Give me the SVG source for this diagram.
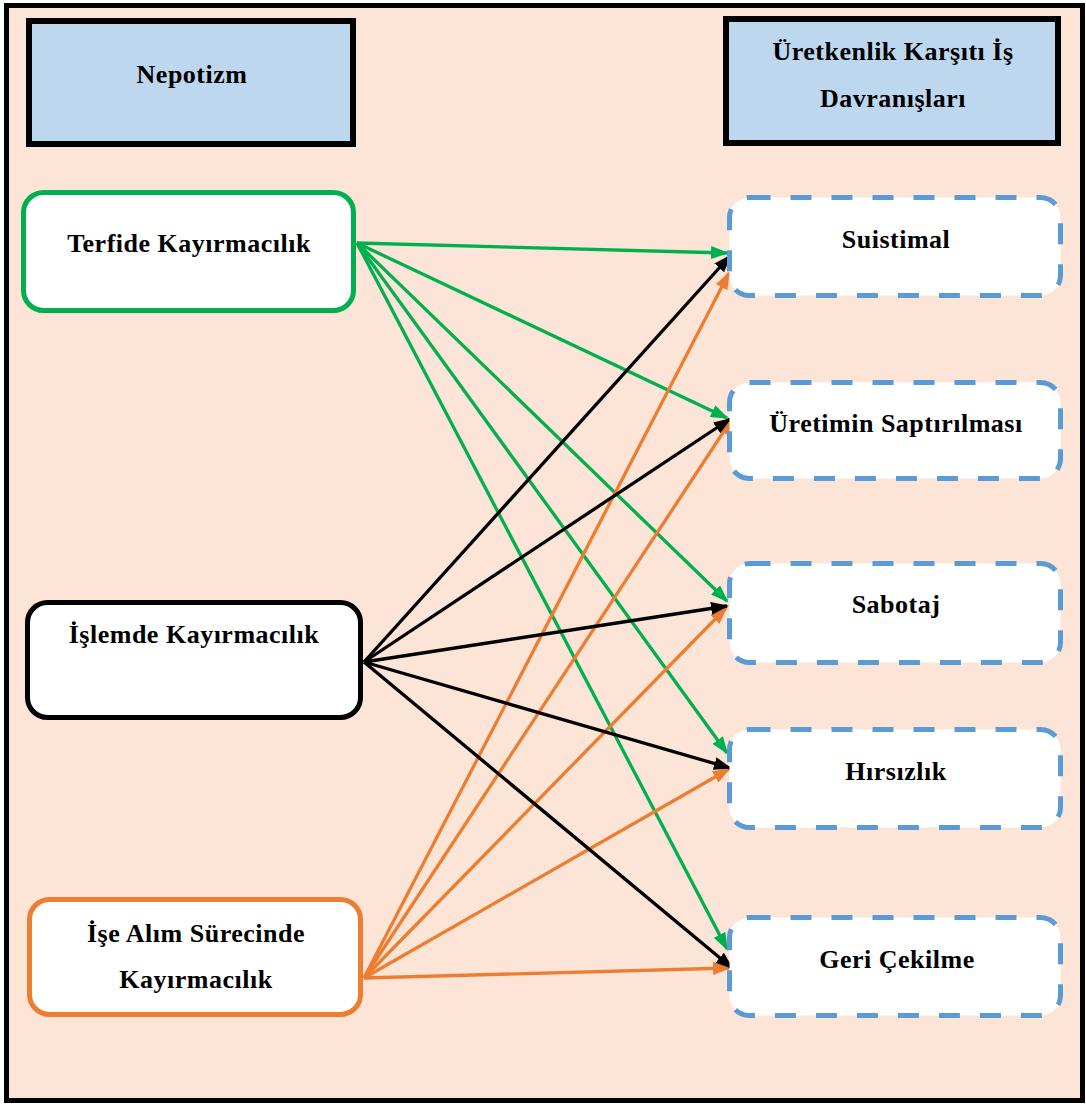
<svg xmlns="http://www.w3.org/2000/svg" width="1086" height="1104" viewBox="0 0 1086 1104">
  <style>
    .lbl { font-family: "Liberation Serif", "Times New Roman", serif; font-weight: bold; font-size: 26px; letter-spacing: 0.5px; fill: #000; text-anchor: middle; }
    .head { fill: #BDD7EE; stroke: #000; stroke-width: 6; }
    .src { fill: #fff; stroke-width: 5; }
    .dst { fill: #fff; stroke: #5B9BD5; stroke-width: 5; stroke-dasharray: 21 20; }
    .c-green { stroke: #00B050; stroke-width: 3.3; fill: none; }
    .c-black { stroke: #000; stroke-width: 3.3; fill: none; }
    .c-orange { stroke: #ED7D31; stroke-width: 3.3; fill: none; }
  </style>
  <defs>
    <marker id="arr-green" viewBox="0 0 18 13" refX="16" refY="6.5" markerWidth="18" markerHeight="13" markerUnits="userSpaceOnUse" orient="auto">
      <path d="M0,0 L18,6.5 L0,13 z" fill="#00B050"/>
    </marker>
    <marker id="arr-black" viewBox="0 0 18 13" refX="16" refY="6.5" markerWidth="18" markerHeight="13" markerUnits="userSpaceOnUse" orient="auto">
      <path d="M0,0 L18,6.5 L0,13 z" fill="#000"/>
    </marker>
    <marker id="arr-orange" viewBox="0 0 18 13" refX="16" refY="6.5" markerWidth="18" markerHeight="13" markerUnits="userSpaceOnUse" orient="auto">
      <path d="M0,0 L18,6.5 L0,13 z" fill="#ED7D31"/>
    </marker>
  </defs>

  <!-- frame and background -->
  <rect x="6.5" y="5.5" width="1076" height="1095" fill="#FCE4D6" stroke="#000" stroke-width="5"/>

  <!-- column headers -->
  <g id="hdr-nepotizm">
    <rect class="head" x="29" y="21" width="324" height="123"/>
    <text class="lbl" x="192" y="83">Nepotizm</text>
  </g>
  <g id="hdr-ukid">
    <rect class="head" x="726" y="19" width="332" height="124"/>
    <text class="lbl" x="893" y="60">Üretkenlik Karşıtı İş</text>
    <text class="lbl" x="893" y="107">Davranışları</text>
  </g>

  <!-- connectors -->
  <g id="connectors">
    <g class="c-green">
      <line x1="357" y1="243" x2="727" y2="253" marker-end="url(#arr-green)"/>
      <line x1="357" y1="243" x2="727" y2="418" marker-end="url(#arr-green)"/>
      <line x1="357" y1="243" x2="727" y2="601" marker-end="url(#arr-green)"/>
      <line x1="357" y1="243" x2="727" y2="753" marker-end="url(#arr-green)"/>
      <line x1="357" y1="243" x2="727" y2="949" marker-end="url(#arr-green)"/>
    </g>
    <g class="c-orange">
      <line x1="364" y1="978" x2="729" y2="273" marker-end="url(#arr-orange)"/>
      <line x1="364" y1="978" x2="732" y2="419" marker-end="url(#arr-orange)"/>
      <line x1="364" y1="978" x2="726" y2="608" marker-end="url(#arr-orange)"/>
      <line x1="364" y1="978" x2="729" y2="769" marker-end="url(#arr-orange)"/>
      <line x1="364" y1="978" x2="729" y2="968" marker-end="url(#arr-orange)"/>
    </g>
    <g class="c-black">
      <line x1="364" y1="662" x2="730" y2="256" marker-end="url(#arr-black)"/>
      <line x1="364" y1="662" x2="730" y2="419" marker-end="url(#arr-black)"/>
      <line x1="364" y1="662" x2="727" y2="606" marker-end="url(#arr-black)"/>
      <line x1="364" y1="662" x2="730" y2="768" marker-end="url(#arr-black)"/>
      <line x1="364" y1="662" x2="732" y2="968" marker-end="url(#arr-black)"/>
    </g>
  </g>

  <!-- source nodes -->
  <g id="n-terfide">
    <rect class="src" x="23.5" y="192.5" width="330" height="118" rx="20" stroke="#00B050"/>
    <text class="lbl" x="189" y="252">Terfide Kayırmacılık</text>
  </g>
  <g id="n-islemde">
    <rect class="src" x="27.5" y="602.5" width="333" height="115" rx="20" stroke="#000"/>
    <text class="lbl" x="194" y="643">İşlemde Kayırmacılık</text>
  </g>
  <g id="n-isealim">
    <rect class="src" x="29.5" y="899.5" width="331" height="115" rx="20" stroke="#ED7D31"/>
    <text class="lbl" x="196" y="942">İşe Alım Sürecinde</text>
    <text class="lbl" x="196" y="988">Kayırmacılık</text>
  </g>

  <!-- target nodes -->
  <g id="n-suistimal">
    <rect class="dst" x="729.5" y="197.5" width="331" height="98" rx="20"/>
    <text class="lbl" x="896" y="248">Suistimal</text>
  </g>
  <g id="n-uretimin">
    <rect class="dst" x="729.5" y="382.5" width="331" height="96" rx="20"/>
    <text class="lbl" x="896" y="432">Üretimin Saptırılması</text>
  </g>
  <g id="n-sabotaj">
    <rect class="dst" x="729.5" y="563.5" width="331" height="99" rx="20"/>
    <text class="lbl" x="896" y="613">Sabotaj</text>
  </g>
  <g id="n-hirsizlik">
    <rect class="dst" x="729.5" y="729.5" width="331" height="98" rx="20"/>
    <text class="lbl" x="896" y="780">Hırsızlık</text>
  </g>
  <g id="n-geri">
    <rect class="dst" x="729.5" y="917.5" width="331" height="98" rx="20"/>
    <text class="lbl" x="897" y="968">Geri Çekilme</text>
  </g>
</svg>
